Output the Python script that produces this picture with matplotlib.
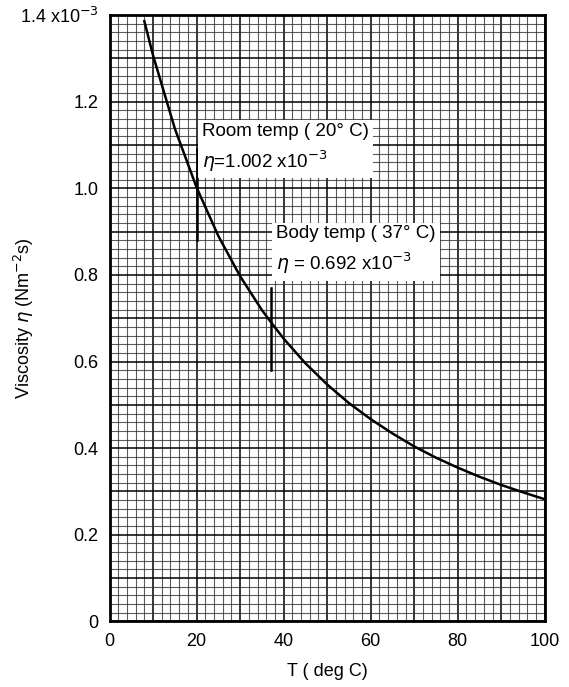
import numpy as np
import matplotlib.pyplot as plt
from matplotlib.ticker import MultipleLocator

# viscosity of water (units of 1e-3 N m^-2 s)
temp_c = [8, 10, 15, 20, 25, 30, 35, 37, 40, 45, 50, 55, 60, 65, 70, 75, 80, 85, 90, 95, 100]
viscosity = [1.386, 1.307, 1.138, 1.002, 0.890, 0.797, 0.719, 0.692, 0.653, 0.596, 0.547,
             0.504, 0.467, 0.434, 0.404, 0.378, 0.355, 0.334, 0.315, 0.298, 0.282]

x_tick_labels = ["0", "", "20", "", "40", "", "60", "", "80", "", "100"]
y_tick_labels = ["0", "", "0.2", "", "0.4", "", "0.6", "", "0.8", "", "1.0", "", "1.2", "",
                 "1.4 x10$^{-3}$"]

# marked points: (temperature, viscosity, marker span low, marker span high)
room = (20, 1.002, 0.88, 1.09)
body = (37, 0.692, 0.58, 0.77)

plt.rcParams["font.family"] = ["Liberation Sans", "DejaVu Sans"]

fig = plt.figure(figsize=(5.69, 6.87), dpi=100)
ax = fig.add_axes([0.1925, 0.0955, 0.765, 0.8825])

ax.set_xlim(0, 100)
ax.set_ylim(0, 1.4)

# graph-paper grid
ax.xaxis.set_minor_locator(MultipleLocator(2))
ax.yaxis.set_minor_locator(MultipleLocator(0.02))
ax.grid(True, which="minor", color="#333333", lw=0.8, alpha=0.8)
ax.grid(True, which="major", color="black", lw=1.1)
ax.set_axisbelow(True)

ax.plot(temp_c, viscosity, color="black", lw=1.8, zorder=3)

for t, v, lo, hi in (room, body):
    ax.plot([t, t], [lo, hi], color="black", lw=1.8, zorder=3)

box = dict(facecolor="white", edgecolor="none", pad=3)
ax.text(21.3, 1.152, "Room temp ( 20° C)\n$\\eta$=1.002 x10$^{-3}$", fontsize=13.5,
        va="top", ha="left", linespacing=1.45, bbox=box, zorder=4)
ax.text(38.3, 0.915, "Body temp ( 37° C)\n$\\eta$ = 0.692 x10$^{-3}$", fontsize=13.5,
        va="top", ha="left", linespacing=1.45, bbox=box, zorder=4)

for s in ax.spines.values():
    s.set_linewidth(2)

ax.set_xticks(np.arange(0, 101, 10))
ax.set_xticklabels(x_tick_labels, fontsize=13)
ax.set_yticks(np.arange(0, 1.41, 0.1))
ax.set_yticklabels(y_tick_labels, fontsize=13)
ax.tick_params(which="both", length=0, pad=8)

ax.set_xlabel("T ( deg C)", fontsize=13, labelpad=10)
ax.set_ylabel("Viscosity $\\eta$ (Nm$^{-2}$s)", fontsize=13)
ax.yaxis.set_label_coords(-0.17, 0.5)

fig.savefig("out.png", dpi=100)
